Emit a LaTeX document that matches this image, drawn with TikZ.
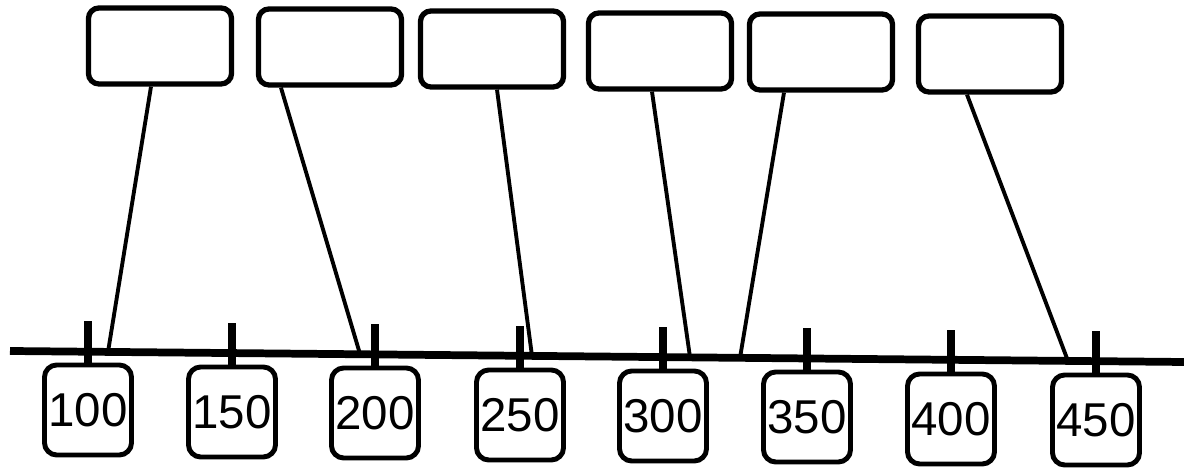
\documentclass[tikz,border=0pt]{standalone}
\usepackage{fontspec}
\setmainfont{Liberation Sans}

\begin{document}
\begin{tikzpicture}[x=0.01cm,y=0.01cm,
    blank/.style={draw,line width=1.5pt,rounded corners=3pt,minimum width=1.43cm,minimum height=0.76cm},
    valbox/.style={draw,line width=1.4pt,rounded corners=3.5pt,minimum width=0.87cm,minimum height=0.9cm,inner sep=0pt,font=\fontsize{13.5}{16}\selectfont},
    link/.style={line width=1.1pt},
    tickline/.style={line width=2.3pt}]
    \useasboundingbox (0,0) rectangle (1184,473);
    \node[blank] (b1) at (160,427) {};
    \node[blank] (b2) at (330,426) {};
    \node[blank] (b3) at (492,424) {};
    \node[blank] (b4) at (660,422) {};
    \node[blank] (b5) at (821,421) {};
    \node[blank] (b6) at (990,419) {};
    \coordinate (L) at (10,122);
    \coordinate (R) at (1184,111);
    \draw[line width=2.2pt] (L) -- (R);
    \node[valbox] (v100) at (88,63) {100};
    \node[valbox] (v150) at (232,61) {150};
    \node[valbox] (v200) at (375,60) {200};
    \node[valbox] (v250) at (520,58) {250};
    \node[valbox] (v300) at (663,57) {300};
    \node[valbox] (v350) at (807,56) {350};
    \node[valbox] (v400) at (951,54) {400};
    \node[valbox] (v450) at (1096,53) {450};
    \foreach \v in {100,150,...,450}
        \draw[tickline] (v\v.north) -- ++(0,42);
    \coordinate (p1) at (108,121);
    \coordinate (p2) at (360,119);
    \coordinate (p3) at (532,117);
    \coordinate (p4) at (690,116);
    \coordinate (p5) at (740,115);
    \coordinate (p6) at (1068,112);
    \draw[link] ([xshift=-0.09cm]b1.south) -- (p1);
    \draw[link] ([xshift=-0.49cm]b2.south) -- (p2);
    \draw[link] ([xshift=0.05cm]b3.south) -- (p3);
    \draw[link] ([xshift=-0.08cm]b4.south) -- (p4);
    \draw[link] ([xshift=-0.37cm]b5.south) -- (p5);
    \draw[link] ([xshift=-0.23cm]b6.south) -- (p6);
\end{tikzpicture}
\end{document}
